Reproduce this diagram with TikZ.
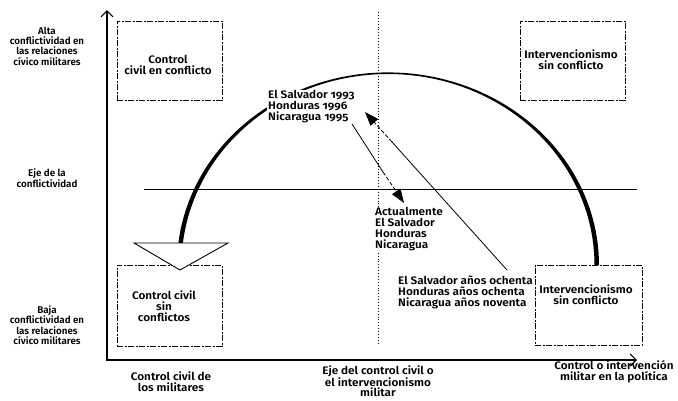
\documentclass[tikz,border=0pt]{standalone}
\usepackage{fontspec}
\setmainfont{Fira Sans}[UprightFont={* SemiBold}, Numbers=OldStyle]
\newfontfamily\widefam{Fira Sans}[UprightFont={* SemiBold}, Numbers=OldStyle, FakeStretch=1.08]
\usetikzlibrary{arrows.meta}
\begin{document}
\begin{tikzpicture}[x=1pt,y=-1pt,
  lbl/.style={align=center, font=\widefam\fontsize{10.9}{11}\selectfont, inner sep=1pt},
  sidel/.style={align=center, font=\fontsize{9.8}{10.4}\selectfont, inner sep=1pt},
  lbll/.style={align=left, font=\widefam\fontsize{10.9}{11}\selectfont, inner sep=1pt, fill=white},
  boxd/.style={draw, line width=0.6pt, dash pattern=on 6pt off 1.5pt on 2pt off 1.5pt, inner sep=0pt},
  axisline/.style={line width=1.1pt, -{Straight Barb[length=6pt,width=12pt,line width=1.1pt]}},
  tip/.style={-{Triangle[length=14pt,width=10pt]}},
  solidpart/.style={line width=0.8pt},
  dashpart/.style={line width=0.8pt, dash pattern=on 4pt off 2pt},
]
\useasboundingbox (0,0) rectangle (678,400);

% axes
\coordinate (o) at (107,361);
\coordinate (ytip) at (107,10);
\coordinate (xtip) at (637,360);
\draw[axisline] (o) -- (ytip);
\draw[axisline] (106.5,360) -- (xtip);

% conflict axis
\coordinate (e1) at (144,189);
\coordinate (e2) at (637,189);
\draw[line width=0.9pt] (e1) -- (e2);

% dotted vertical axis
\coordinate (d1) at (378,12);
\coordinate (d2) at (378,345);
\draw[line width=0.9pt, dotted] (d1) -- (d2);

% boxes
\node[boxd, minimum width=105pt, minimum height=79pt] (tl) at (169.5,60.5) {};
\node[boxd, minimum width=105pt, minimum height=79pt] (tr) at (572.5,60.5) {};
\node[boxd, minimum width=105pt, minimum height=81pt] (bl) at (169.5,305.5) {};
\node[boxd, minimum width=107pt, minimum height=80pt] (br) at (588.5,305) {};

\node[lbl] (tlt) at (168,65) {Control\\civil en conflicto};
\node[lbl] (trt) at (571,60) {Intervencionismo\\sin conflicto};
\node[lbl] (blt) at (164,306) {Control civil\\sin\\conflictos};
\node[lbl] (brt) at (586,295) {Intervencionismo\\sin conflicto};

% tapered arc
\fill plot[domain=0:173.42, samples=90] ({388+211*cos(\x)},{265-192.6*sin(\x)})
  -- plot[domain=173.42:0, samples=90] ({388+206.5*cos(\x)},{265-191*sin(\x)}) -- cycle;

% open triangle arrowhead
\draw[line width=0.9pt, fill=white] (134,243) -- (228,243) -- (180,270) -- cycle;

% side labels
\node[sidel] (alta) at (47,46) {Alta\\conflictividad en\\las relaciones\\cívico militares};
\node[sidel] (eje) at (47,178) {Eje de la\\conflictividad};
\node[sidel] (baja) at (47,325) {Baja\\conflictividad en\\las relaciones\\cívico militares};
\node[lbl] (xl) at (171,382) {Control civil de\\los militares};
\node[lbl, font=\widefam\fontsize{10.9}{10}\selectfont] (xm) at (378,381.5) {Eje del control civil o\\el intervencionismo\\militar};
\node[lbl] (xr) at (614,372) {Control o intervención\\militar en la política};

% country labels
\node[lbll, anchor=west] (y93) at (267,107) {El Salvador 1993\\Honduras 1996\\Nicaragua 1995};
\node[lbll, anchor=west] (act) at (374,229.5) {Actualmente\\El Salvador\\Honduras\\Nicaragua};
\node[lbll, anchor=west, fill=none] (och) at (397,292) {El Salvador años ochenta\\Honduras años ochenta\\Nicaragua años noventa};

% arrows
\coordinate (a1s) at (352,124);
\coordinate (a1m) at (383,172);
\coordinate (a1n) at (396,191);
\coordinate (a1e) at (404,203);
\draw[solidpart] (a1s) -- (a1m);
\draw[dashpart] (a1m) -- (a1n);
\draw[solidpart, tip] (a1n) -- (a1e);

\coordinate (a2s) at (507,270);
\coordinate (a2m) at (392,142);
\coordinate (a2n) at (374,122);
\coordinate (a2e) at (365,112);
\draw[solidpart] (a2s) -- (a2m);
\draw[dashpart] (a2m) -- (a2n);
\draw[solidpart, tip] (a2n) -- (a2e);
\end{tikzpicture}
\end{document}
